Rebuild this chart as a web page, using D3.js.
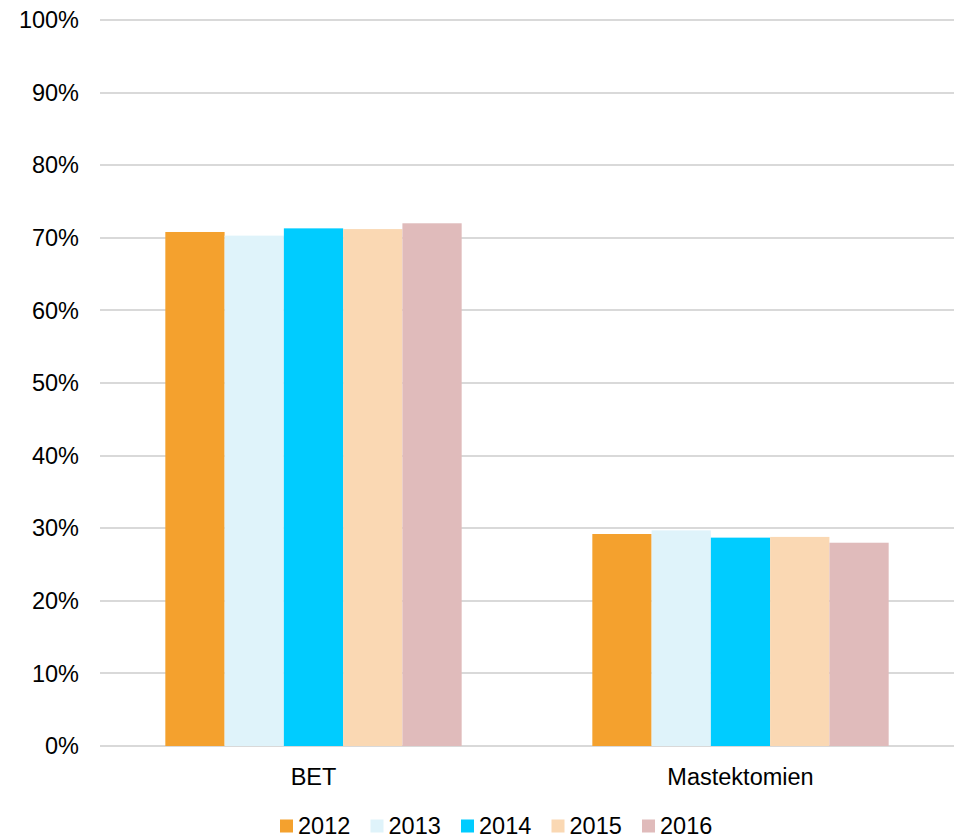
<!DOCTYPE html>
<html>
<head>
<meta charset="utf-8">
<script src="https://cdn.jsdelivr.net/npm/d3@7"></script>
<style>
  body { margin: 0; background: #fff; }
  text { font-family: "Liberation Sans", Arial, sans-serif; fill: #000; }
</style>
</head>
<body>
<div id="chart"></div>
<script>
var categories = ["BET", "Mastektomien"];
var years = ["2012", "2013", "2014", "2015", "2016"];
var colors = ["#F4A12E", "#DFF3FA", "#00CCFF", "#FAD8B3", "#E0BBBB"];
var bet = [70.8, 70.3, 71.3, 71.2, 72.0];
var mastektomien = [29.2, 29.7, 28.7, 28.8, 28.0];
var yTicks = [0, 10, 20, 30, 40, 50, 60, 70, 80, 90, 100];

var svgWidth = 957;
var svgHeight = 839;

var svg = d3.select("#chart")
    .append("svg")
    .attr("width", svgWidth)
    .attr("height", svgHeight);

var plotLeft = 100, plotRight = 954, plotTop = 20, plotBottom = 746;

var x0 = d3.scaleBand()
    .domain(categories)
    .range([plotLeft, plotRight])
    .paddingInner(0.306)
    .paddingOuter(0.153);

var x1 = d3.scaleBand()
    .domain(years)
    .range([0, x0.bandwidth()]);

var y = d3.scaleLinear()
    .domain([0, 100])
    .range([plotBottom, plotTop]);

// gridlines
svg.append("g")
    .selectAll("line")
    .data(yTicks)
    .enter()
    .append("line")
    .attr("x1", plotLeft)
    .attr("x2", plotRight)
    .attr("y1", d => Math.round(y(d)))
    .attr("y2", d => Math.round(y(d)))
    .attr("stroke", "#d9d9d9")
    .attr("stroke-width", 2);

// y tick labels
svg.append("g")
    .selectAll("text")
    .data(yTicks)
    .enter()
    .append("text")
    .attr("x", 79)
    .attr("y", d => y(d))
    .attr("dy", "0.35em")
    .attr("text-anchor", "end")
    .style("font-size", "23.5px")
    .text(d => d + "%");

var rows = categories.map((c, i) => ({ cat: c, values: i === 0 ? bet : mastektomien }));

var groups = svg.append("g")
    .selectAll("g")
    .data(rows)
    .enter()
    .append("g")
    .attr("transform", d => `translate(${x0(d.cat)},0)`);

groups.selectAll("rect")
    .data(d => d.values.map((v, i) => ({ year: years[i], value: v, color: colors[i] })))
    .enter()
    .append("rect")
    .attr("x", d => x1(d.year))
    .attr("y", d => y(d.value))
    .attr("width", x1.bandwidth())
    .attr("height", d => y(0) - y(d.value))
    .attr("fill", d => d.color);

// category labels
svg.append("g")
    .selectAll("text")
    .data(categories)
    .enter()
    .append("text")
    .attr("x", d => x0(d) + x0.bandwidth() / 2)
    .attr("y", 777)
    .attr("dy", "0.35em")
    .attr("text-anchor", "middle")
    .style("font-size", "23.5px")
    .text(d => d);

// legend
var legend = svg.append("g")
    .selectAll("g")
    .data(years)
    .enter()
    .append("g")
    .attr("transform", (d, i) => `translate(${280 + i * 90.5},826)`);

legend.append("rect")
    .attr("x", 0)
    .attr("y", -6.5)
    .attr("width", 13)
    .attr("height", 13)
    .attr("fill", (d, i) => colors[i]);

legend.append("text")
    .attr("x", 18)
    .attr("y", 0)
    .attr("dy", "0.35em")
    .style("font-size", "23.5px")
    .text(d => d);
</script>
</body>
</html>
